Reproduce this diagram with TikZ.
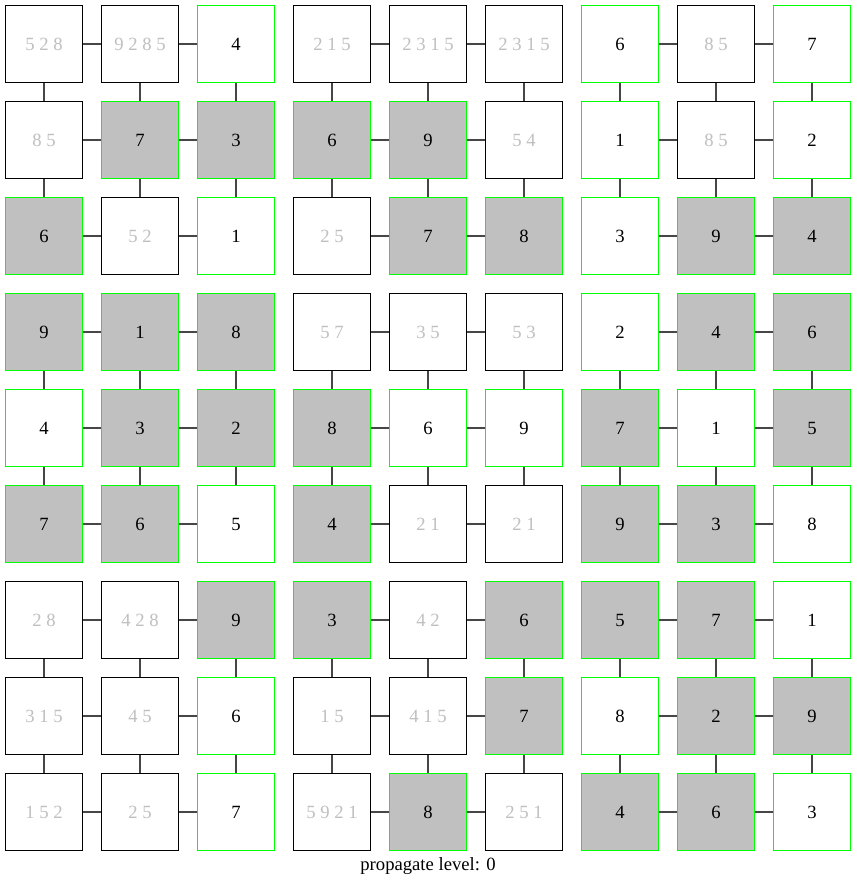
\documentclass[tikz,border=0pt]{standalone}
\usepackage{fontspec}
\setmainfont{Liberation Serif}
\definecolor{boxgray}{RGB}{192,192,192}
\definecolor{candtext}{RGB}{192,192,192}
\definecolor{gridgreen}{RGB}{0,255,0}
\definecolor{edgegray}{RGB}{70,70,70}
\tikzset{
  cellbase/.style={rectangle, minimum size=57.75pt, inner sep=0pt, line width=0.8pt,
    font=\fontsize{14}{16.8}\selectfont},
  cellc/.style={cellbase, draw=black, fill=white, text=candtext},
  cellw/.style={cellbase, draw=gridgreen, fill=white, text=black},
  cellf/.style={cellbase, draw=gridgreen, fill=boxgray, text=black},
  link/.style={draw=edgegray, line width=1pt}
}
\begin{document}
\begin{tikzpicture}[x=0.75pt,y=-0.75pt]
\useasboundingbox (0,0) rectangle (856,887);
\foreach \r/\c/\t/\s in {
0/0/c/5 2 8, 0/1/c/9 2 8 5, 0/2/w/4, 0/3/c/2 1 5, 0/4/c/2 3 1 5, 0/5/c/2 3 1 5, 0/6/w/6, 0/7/c/8 5, 0/8/w/7,
1/0/c/8 5, 1/1/f/7, 1/2/f/3, 1/3/f/6, 1/4/f/9, 1/5/c/5 4, 1/6/w/1, 1/7/c/8 5, 1/8/w/2,
2/0/f/6, 2/1/c/5 2, 2/2/w/1, 2/3/c/2 5, 2/4/f/7, 2/5/f/8, 2/6/w/3, 2/7/f/9, 2/8/f/4,
3/0/f/9, 3/1/f/1, 3/2/f/8, 3/3/c/5 7, 3/4/c/3 5, 3/5/c/5 3, 3/6/w/2, 3/7/f/4, 3/8/f/6,
4/0/w/4, 4/1/f/3, 4/2/f/2, 4/3/f/8, 4/4/w/6, 4/5/w/9, 4/6/f/7, 4/7/w/1, 4/8/f/5,
5/0/f/7, 5/1/f/6, 5/2/w/5, 5/3/f/4, 5/4/c/2 1, 5/5/c/2 1, 5/6/f/9, 5/7/f/3, 5/8/w/8,
6/0/c/2 8, 6/1/c/4 2 8, 6/2/f/9, 6/3/f/3, 6/4/c/4 2, 6/5/f/6, 6/6/f/5, 6/7/f/7, 6/8/w/1,
7/0/c/3 1 5, 7/1/c/4 5, 7/2/w/6, 7/3/c/1 5, 7/4/c/4 1 5, 7/5/f/7, 7/6/w/8, 7/7/f/2, 7/8/f/9,
8/0/c/1 5 2, 8/1/c/2 5, 8/2/w/7, 8/3/c/5 9 2 1, 8/4/f/8, 8/5/c/2 5 1, 8/6/f/4, 8/7/f/6, 8/8/w/3}
{
  \node[cell\t] (n\r\c) at ({44+96*\c},{44+96*\r}) {\s};
}
\foreach \r in {0,...,8} {
  \foreach \c in {0,1,3,4,6,7} {
    \pgfmathtruncatemacro\cn{\c+1}
    \draw[link] (n\r\c.east) -- (n\r\cn.west);
  }
}
\foreach \r in {0,1,3,4,6,7} {
  \foreach \c in {0,...,8} {
    \pgfmathtruncatemacro\rn{\r+1}
    \draw[link] (n\r\c.south) -- (n\rn\c.north);
  }
}
\node[font=\fontsize{14}{16.8}\selectfont, inner sep=0pt] (caption) at (428,866) {propagate level: 0};
\end{tikzpicture}
\end{document}
